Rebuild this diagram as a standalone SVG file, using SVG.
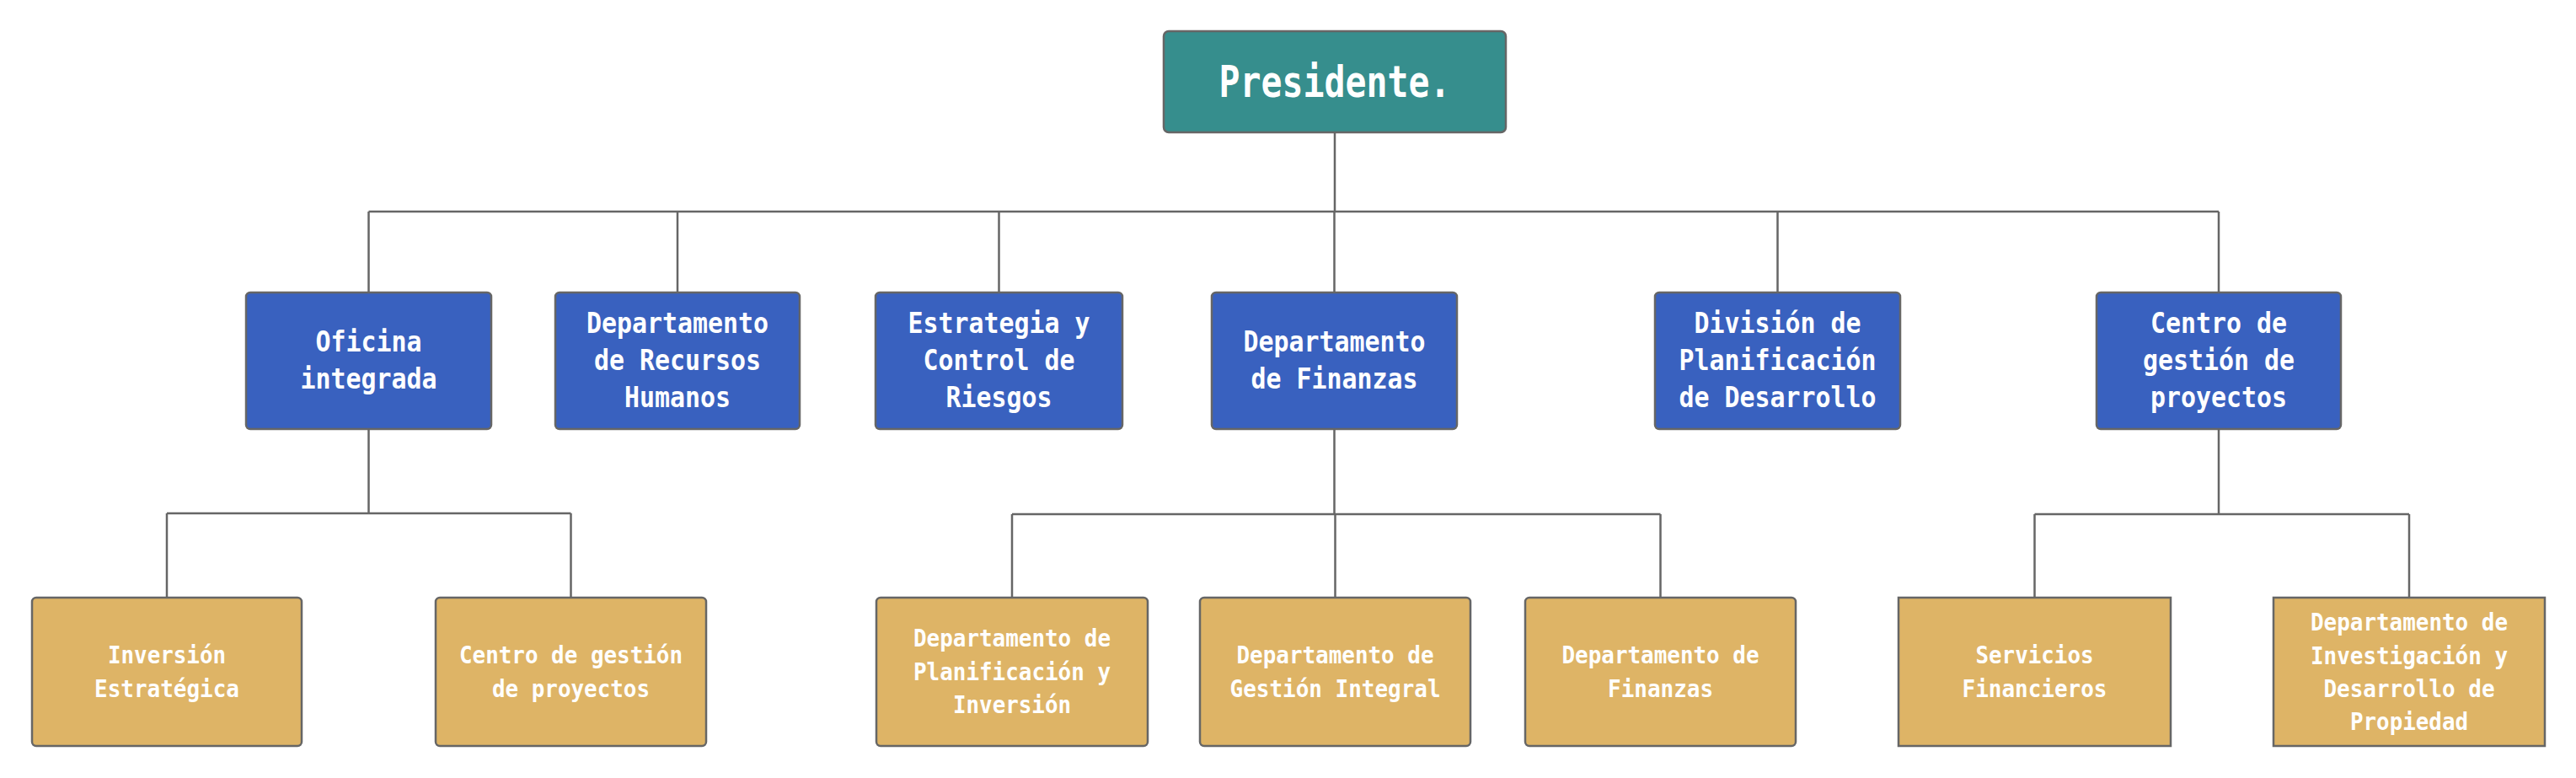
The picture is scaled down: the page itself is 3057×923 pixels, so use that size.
<svg xmlns="http://www.w3.org/2000/svg" width="3057" height="923" viewBox="0 0 3057 923">
<style>
.box{stroke:#666666;stroke-width:2.5}
.top{fill:#368E8D}
.mid{fill:#3961BF}
.low{fill:#DEB466}
.t{font-family:"DejaVu Sans Mono","Liberation Mono",monospace;font-weight:bold;fill:#FFFFFF;text-anchor:middle}
.t1{font-size:52px}
.t2{font-size:33px}
.t3{font-size:28px}
.c{fill:none;stroke:#666666;stroke-width:2.5}
</style>
<rect width="3057" height="923" fill="#FFFFFF"/>
<g id="connectors">
<path class="c" d="M1584,157V251M437.5,251H2633M437.5,251V347M804,251V347M1185.5,251V347M1583.5,251V347M2109.5,251V347M2633,251V347"/>
<path class="c" d="M437.5,509V609M198,609H677.5M198,609V709M677.5,609V709"/>
<path class="c" d="M1583.5,509V610M1201,610H1970.5M1201,610V709M1584.5,610V709M1970.5,610V709"/>
<path class="c" d="M2633,509V610M2414.5,610H2859M2414.5,610V709M2859,610V709"/>
</g>
<g id="presidente">
<rect class="box top" x="1381" y="37" width="406" height="120" rx="6"/>
<text class="t t1" x="1584" y="115" textLength="275" lengthAdjust="spacingAndGlyphs">Presidente.</text>
</g>
<g id="oficina">
<rect class="box mid" x="292" y="347" width="291" height="162" rx="5"/>
<text class="t t2" x="437.5" y="417" textLength="126" lengthAdjust="spacingAndGlyphs">Oficina</text>
<text class="t t2" x="437.5" y="461" textLength="162" lengthAdjust="spacingAndGlyphs">integrada</text>
</g>
<g id="rrhh">
<rect class="box mid" x="659" y="347" width="290" height="162" rx="5"/>
<text class="t t2" x="804" y="395" textLength="216" lengthAdjust="spacingAndGlyphs">Departamento</text>
<text class="t t2" x="804" y="439" textLength="198" lengthAdjust="spacingAndGlyphs">de Recursos</text>
<text class="t t2" x="804" y="483" textLength="126" lengthAdjust="spacingAndGlyphs">Humanos</text>
</g>
<g id="estrategia">
<rect class="box mid" x="1039" y="347" width="293" height="162" rx="5"/>
<text class="t t2" x="1185.5" y="395" textLength="216" lengthAdjust="spacingAndGlyphs">Estrategia y</text>
<text class="t t2" x="1185.5" y="439" textLength="180" lengthAdjust="spacingAndGlyphs">Control de</text>
<text class="t t2" x="1185.5" y="483" textLength="126" lengthAdjust="spacingAndGlyphs">Riesgos</text>
</g>
<g id="finanzas">
<rect class="box mid" x="1438" y="347" width="291" height="162" rx="5"/>
<text class="t t2" x="1583.5" y="417" textLength="216" lengthAdjust="spacingAndGlyphs">Departamento</text>
<text class="t t2" x="1583.5" y="461" textLength="198" lengthAdjust="spacingAndGlyphs">de Finanzas</text>
</g>
<g id="division">
<rect class="box mid" x="1964" y="347" width="291" height="162" rx="5"/>
<text class="t t2" x="2109.5" y="395" textLength="198" lengthAdjust="spacingAndGlyphs">División de</text>
<text class="t t2" x="2109.5" y="439" textLength="234" lengthAdjust="spacingAndGlyphs">Planificación</text>
<text class="t t2" x="2109.5" y="483" textLength="234" lengthAdjust="spacingAndGlyphs">de Desarrollo</text>
</g>
<g id="centro">
<rect class="box mid" x="2488" y="347" width="290" height="162" rx="5"/>
<text class="t t2" x="2633" y="395" textLength="162" lengthAdjust="spacingAndGlyphs">Centro de</text>
<text class="t t2" x="2633" y="439" textLength="180" lengthAdjust="spacingAndGlyphs">gestión de</text>
<text class="t t2" x="2633" y="483" textLength="162" lengthAdjust="spacingAndGlyphs">proyectos</text>
</g>
<g id="inversion-estrategica">
<rect class="box low" x="38" y="709" width="320" height="176" rx="5"/>
<text class="t t3" x="198" y="787" textLength="140" lengthAdjust="spacingAndGlyphs">Inversión</text>
<text class="t t3" x="198" y="827" textLength="172" lengthAdjust="spacingAndGlyphs">Estratégica</text>
</g>
<g id="centro-gestion">
<rect class="box low" x="517" y="709" width="321" height="176" rx="5"/>
<text class="t t3" x="677.5" y="787" textLength="265" lengthAdjust="spacingAndGlyphs">Centro de gestión</text>
<text class="t t3" x="677.5" y="827" textLength="187" lengthAdjust="spacingAndGlyphs">de proyectos</text>
</g>
<g id="planificacion-inversion">
<rect class="box low" x="1040" y="709" width="322" height="176" rx="5"/>
<text class="t t3" x="1201" y="767" textLength="234" lengthAdjust="spacingAndGlyphs">Departamento de</text>
<text class="t t3" x="1201" y="807" textLength="234" lengthAdjust="spacingAndGlyphs">Planificación y</text>
<text class="t t3" x="1201" y="846" textLength="140" lengthAdjust="spacingAndGlyphs">Inversión</text>
</g>
<g id="gestion-integral">
<rect class="box low" x="1424" y="709" width="321" height="176" rx="5"/>
<text class="t t3" x="1584.5" y="787" textLength="234" lengthAdjust="spacingAndGlyphs">Departamento de</text>
<text class="t t3" x="1584.5" y="827" textLength="250" lengthAdjust="spacingAndGlyphs">Gestión Integral</text>
</g>
<g id="dep-finanzas">
<rect class="box low" x="1810" y="709" width="321" height="176" rx="5"/>
<text class="t t3" x="1970.5" y="787" textLength="234" lengthAdjust="spacingAndGlyphs">Departamento de</text>
<text class="t t3" x="1970.5" y="827" textLength="125" lengthAdjust="spacingAndGlyphs">Finanzas</text>
</g>
<g id="servicios-financieros">
<rect class="box low" x="2253" y="709" width="323" height="176"/>
<text class="t t3" x="2414.5" y="787" textLength="140" lengthAdjust="spacingAndGlyphs">Servicios</text>
<text class="t t3" x="2414.5" y="827" textLength="172" lengthAdjust="spacingAndGlyphs">Financieros</text>
</g>
<g id="investigacion-desarrollo">
<rect class="box low" x="2698" y="709" width="322" height="176"/>
<text class="t t3" x="2859" y="748" textLength="234" lengthAdjust="spacingAndGlyphs">Departamento de</text>
<text class="t t3" x="2859" y="788" textLength="234" lengthAdjust="spacingAndGlyphs">Investigación y</text>
<text class="t t3" x="2859" y="827" textLength="203" lengthAdjust="spacingAndGlyphs">Desarrollo de</text>
<text class="t t3" x="2859" y="866" textLength="140" lengthAdjust="spacingAndGlyphs">Propiedad</text>
</g>
</svg>
